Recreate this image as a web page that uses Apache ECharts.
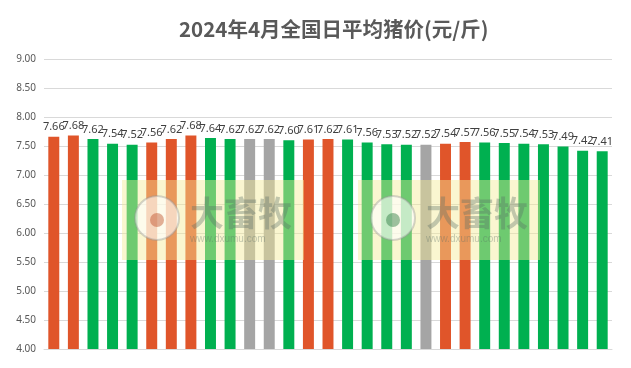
<!DOCTYPE html>
<html><head><meta charset="utf-8">
<script src="https://cdn.jsdelivr.net/npm/echarts@6/dist/echarts.min.js"></script>
<style>html,body{margin:0;padding:0;background:#fff}#c{width:631px;height:368px}</style>
</head><body><div id="c"></div>
<script>
const days = ["1","2","3","4","5","6","7","8","9","10","11","12","13","14","15","16","17","18","19","20","21","22","23","24","25","26","27","28","29"];
const prices = [7.66,7.68,7.62,7.54,7.52,7.56,7.62,7.68,7.64,7.62,7.62,7.62,7.60,7.61,7.62,7.61,7.56,7.53,7.52,7.52,7.54,7.57,7.56,7.55,7.54,7.53,7.49,7.42,7.41];
const trend = ["up","up","down","down","down","up","up","up","down","down","flat","flat","down","up","up","down","down","down","down","flat","up","up","down","down","down","down","down","down","down"];
const yTicks = {min:4, max:9, interval:0.5};
const colorMap = {up:"#E0552A", down:"#00B050", flat:"#A5A5A5"};

const chart = echarts.init(document.getElementById('c'));
chart.setOption({
  animation:false,
  title:{text:"2024年4月全国日平均猪价(元/斤)",left:174,top:14,
    textStyle:{fontSize:20.5,fontWeight:'bold',color:'#595959',fontFamily:'"Noto Sans CJK SC", sans-serif'}},
  grid:{left:44,right:19,top:59,bottom:19},
  xAxis:{type:'category',data:days,axisLabel:{show:false},axisTick:{show:false},
    axisLine:{lineStyle:{color:'#D9D9D9'}}},
  yAxis:{type:'value',min:yTicks.min,max:yTicks.max,interval:yTicks.interval,
    axisLabel:{formatter:v=>v.toFixed(2),color:'#595959',fontSize:10,margin:8,fontFamily:'"Noto Sans", sans-serif'},
    splitLine:{lineStyle:{color:'#D9D9D9'}},axisLine:{show:false},axisTick:{show:false}},
  graphic:[
    {type:'rect',shape:{x:122,y:180,width:182,height:80},style:{fill:'rgba(245,235,150,0.45)'},z:10},
    {type:'rect',shape:{x:358,y:180,width:182,height:80},style:{fill:'rgba(245,235,150,0.45)'},z:10},
    {type:'text',x:190,y:196,style:{text:'大畜牧',fontSize:34,fontWeight:'bold',fill:'rgba(90,110,100,0.35)',fontFamily:'"Noto Sans CJK SC"'},z:11},
    {type:'text',x:190,y:234,style:{text:'www.dxumu.com',fontSize:10,fill:'rgba(90,110,100,0.35)'},z:11},
    {type:'text',x:426,y:196,style:{text:'大畜牧',fontSize:34,fontWeight:'bold',fill:'rgba(90,110,100,0.35)',fontFamily:'"Noto Sans CJK SC"'},z:11},
    {type:'text',x:426,y:234,style:{text:'www.dxumu.com',fontSize:10,fill:'rgba(90,110,100,0.35)'},z:11},
    {type:'circle',shape:{cx:157,cy:218,r:22},style:{fill:'rgba(255,255,255,0.6)',stroke:'rgba(150,150,150,0.4)',lineWidth:2},z:11},
    {type:'circle',shape:{cx:157,cy:220,r:7},style:{fill:'rgba(190,80,40,0.45)'},z:12},
    {type:'circle',shape:{cx:393,cy:218,r:22},style:{fill:'rgba(255,255,255,0.6)',stroke:'rgba(150,150,150,0.4)',lineWidth:2},z:11},
    {type:'circle',shape:{cx:393,cy:220,r:7},style:{fill:'rgba(40,120,60,0.45)'},z:12}
  ],
  series:[{type:'bar',barWidth:'56%',
    data:prices.map((v,i)=>({value:v,itemStyle:{color:colorMap[trend[i]]}})),
    label:{show:true,position:'top',distance:4,color:'#404040',fontSize:11,formatter:p=>p.value.toFixed(2),fontFamily:'"Noto Sans", sans-serif'}
  }]
});
</script></body></html>
